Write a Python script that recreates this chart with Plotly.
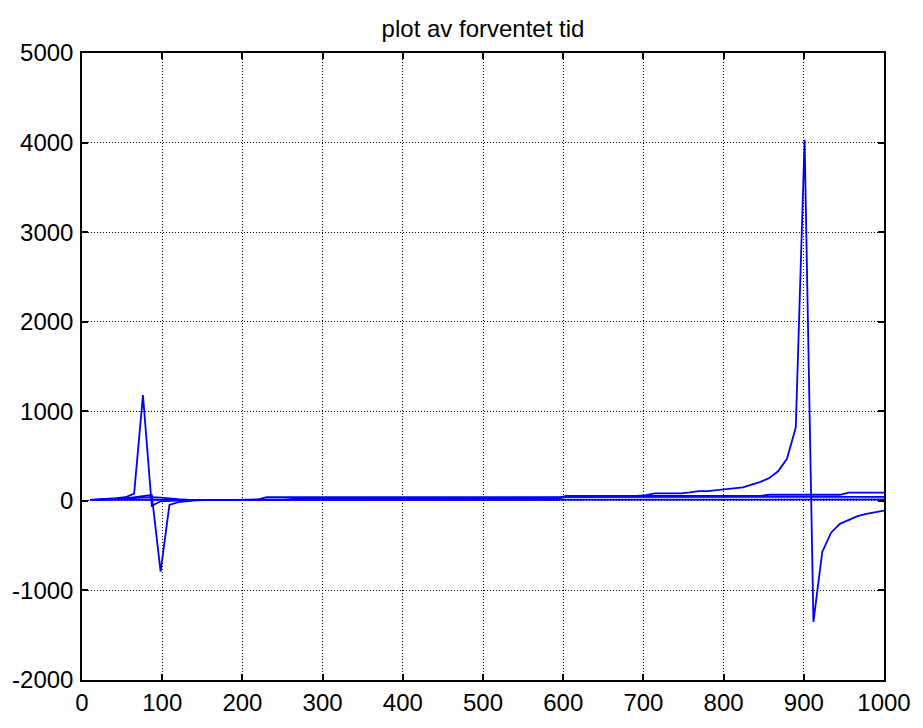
import plotly.graph_objects as go

x = [10, 21, 32, 43, 54, 65, 76, 87, 98, 109, 120, 131, 142, 153, 164, 175, 186, 197, 208, 219,
     230, 241, 252, 263, 274, 285, 296, 307, 318, 329, 340, 351, 362, 373, 384, 395, 406, 417, 428, 439,
     450, 461, 472, 483, 494, 505, 516, 527, 538, 549, 560, 571, 582, 593, 604, 615, 626, 637, 648, 659,
     670, 681, 692, 703, 714, 725, 736, 747, 758, 769, 780, 791, 802, 813, 824, 835, 846, 857, 868, 879,
     890, 901, 912, 923, 934, 945, 956, 967, 978, 989, 1000]

line_a = [11, 15, 22, 30, 40, 80, 1180, -55, -5, 2, 6, 8, 10, 10, 10, 10, 10, 10, 10, 10,
          10, 10, 10, 10, 10, 10, 10, 10, 10, 10, 10, 10, 10, 10, 10, 10, 10, 10, 10, 10,
          10, 10, 10, 10, 10, 10, 10, 10, 10, 10, 10, 10, 10, 10, 15, 15, 15, 15, 15, 15,
          15, 15, 15, 15, 15, 15, 15, 15, 15, 15, 15, 15, 15, 15, 15, 15, 15, 15, 15, 15,
          15, 15, 15, 15, 15, 15, 15, 15, 15, 15, 15]

line_b = [8, 10, 14, 20, 28, 40, 55, 65, -790, -45, -15, -3, 5, 8, 10, 12, 12, 14, 14, 15,
          40, 40, 40, 40, 40, 40, 40, 40, 40, 40, 40, 40, 40, 40, 40, 40, 40, 40, 40, 40,
          40, 40, 40, 40, 40, 40, 40, 45, 45, 45, 45, 45, 45, 45, 45, 45, 45, 45, 45, 45,
          45, 45, 45, 45, 45, 45, 45, 45, 45, 45, 45, 45, 45, 45, 45, 45, 45, 45, 45, 45,
          45, 45, 45, 45, 45, 45, 45, 45, 45, 45, 45]

line_c = [12, 14, 16, 20, 25, 30, 35, 40, 35, 25, 18, 14, 12, 12, 12, 12, 12, 12, 12, 12,
          14, 14, 14, 22, 22, 22, 22, 22, 22, 22, 22, 22, 22, 22, 22, 22, 22, 22, 22, 22,
          22, 22, 22, 22, 22, 22, 22, 30, 30, 30, 30, 30, 30, 30, 55, 55, 55, 55, 55, 55,
          55, 55, 55, 65, 84, 84, 84, 84, 95, 109, 109, 120, 135, 142, 150, 182, 212, 255, 330, 470,
          820, 4030, -1350, -570, -355, -257, -210, -170, -145, -125, -110]

line_d = [10, 10, 10, 10, 10, 10, 10, 10, 10, 10, 10, 10, 10, 10, 10, 10, 10, 10, 10, 10,
          10, 10, 10, 15, 15, 15, 15, 15, 15, 15, 15, 15, 15, 15, 15, 15, 15, 15, 15, 15,
          15, 15, 15, 15, 15, 15, 15, 15, 15, 15, 15, 15, 15, 15, 55, 55, 55, 55, 55, 55,
          55, 55, 55, 55, 55, 55, 55, 55, 55, 55, 55, 55, 55, 55, 55, 55, 55, 68, 68, 68,
          68, 68, 68, 68, 68, 68, 92, 92, 92, 92, 92]

series = [line_a, line_b, line_c, line_d]

x_ticks = [0, 100, 200, 300, 400, 500, 600, 700, 800, 900, 1000]
y_ticks = [-2000, -1000, 0, 1000, 2000, 3000, 4000, 5000]

FONT = "Liberation Sans, Arial, Helvetica, sans-serif"

fig = go.Figure()
for s in series:
    fig.add_trace(go.Scatter(x=x, y=s, mode="lines",
                             line=dict(color="#0000FF", width=1.8),
                             showlegend=False, hoverinfo="skip"))

axis_common = dict(
    showline=True, linecolor="black", linewidth=1.5, mirror="ticks",
    ticks="inside", ticklen=6, tickcolor="black", tickwidth=1.5,
    showgrid=True, gridcolor="black", gridwidth=1, griddash="1px,2px",
    zeroline=False,
    tickfont=dict(family=FONT, size=24, color="black"),
)

fig.update_xaxes(range=[0, 1000], tickvals=x_ticks, ticktext=[str(v) for v in x_ticks],
                 ticklabelstandoff=0, ticklabeloverflow="allow", **axis_common)
fig.update_yaxes(range=[-2000, 5000], tickvals=y_ticks, ticktext=[str(v) for v in y_ticks],
                 ticklabelstandoff=2, **axis_common)

fig.update_layout(
    width=923, height=728,
    margin=dict(l=79, r=27, t=53, b=33),
    paper_bgcolor="white", plot_bgcolor="white",
    title=dict(text="plot av forventet tid", x=0.5, xref="paper", xanchor="center",
               y=1 - 29 / 728, yref="container", yanchor="middle",
               font=dict(family=FONT, size=24, color="black")),
)

fig.write_html("out.html", config={"displayModeBar": False},
               post_script="document.body.style.margin='0';document.body.style.overflow='hidden';")
